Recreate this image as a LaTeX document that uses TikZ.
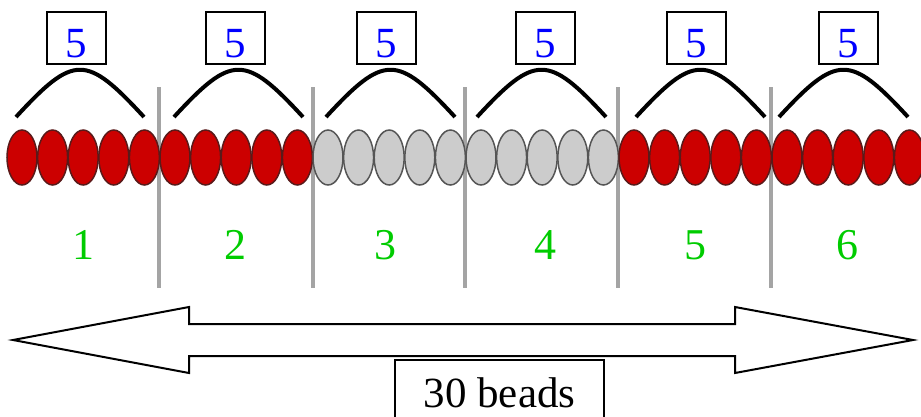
\documentclass[tikz,border=0pt]{standalone}
\usepackage{fontspec}
\setmainfont{Liberation Serif}
\usetikzlibrary{shapes.geometric}
\definecolor{beadred}{HTML}{CC0000}
\definecolor{beadredline}{HTML}{5A1A1A}
\definecolor{beadgray}{HTML}{CCCCCC}
\definecolor{beadgrayline}{HTML}{555555}
\definecolor{divgray}{HTML}{A4A4A4}
\definecolor{numgreen}{HTML}{00CC00}
\begin{document}
\begin{tikzpicture}[x=1pt,y=-1pt,
  bead/.style={ellipse, inner sep=0pt, minimum width=30pt, minimum height=55pt, line width=1.5pt},
  redbead/.style={bead, fill=beadred, draw=beadredline},
  graybead/.style={bead, fill=beadgray, draw=beadgrayline},
  divider/.style={draw=divgray, line width=4pt},
  arcline/.style={draw=black, line width=4pt},
  fivebox/.style={draw=black, line width=2pt, fill=white, minimum width=59pt, minimum height=52pt,
    inner ysep=0pt, text height=38pt, text depth=0pt, text=blue, font=\rmfamily\fontsize{43}{43}\selectfont},
  groupnum/.style={text=numgreen, font=\rmfamily\fontsize{44}{44}\selectfont, inner sep=0pt},
  bigarrow/.style={draw=black, line width=2pt, fill=white, line join=miter},
  totalbox/.style={draw=black, line width=2pt, fill=white, minimum width=209pt, minimum height=66pt,
    anchor=north, font=\rmfamily\fontsize{43}{43}\selectfont}
]
\useasboundingbox (0,0) rectangle (921,416);
\clip (0,0) rectangle (921,416);
\fill[white] (0,0) rectangle (921,416);

% dividers
\foreach \x [count=\k] in {159,313,465,618,771}
  \draw[divider] (\x,87) -- (\x,288);

% beads
\foreach \i in {1,...,10}
  \node[redbead] (b\i) at ({22+30.6*(\i-1)},157.5) {};
\foreach \i in {11,...,20}
  \node[graybead] (b\i) at ({22+30.6*(\i-1)},157.5) {};
\foreach \i in {21,...,30}
  \node[redbead] (b\i) at ({22+30.6*(\i-1)},157.5) {};

% arcs
\foreach \s/\e [count=\k] in {16/144,174/303,326/455,477/606,636/765,779/908}
  \draw[arcline] (\s,117) .. controls ({\s+58},54) and ({\e-58},54) .. (\e,117);

% top boxes
\foreach \x [count=\k] in {76,235,386.5,545.5,696.5,848}
  \node[fivebox] (five\k) at (\x,38) {5};

% group numbers
\foreach \x [count=\k] in {83,235,385,545,695,847}
  \node[groupnum] (num\k) at (\x,245) {\k};

% double arrow
\draw[bigarrow] (13,340) -- (189,307) -- (189,324) -- (735,324) -- (735,307) -- (913,340)
  -- (735,373) -- (735,356) -- (189,356) -- (189,373) -- cycle;

\node[totalbox] (total) at (499.5,359) {30 beads};
\end{tikzpicture}
\end{document}
